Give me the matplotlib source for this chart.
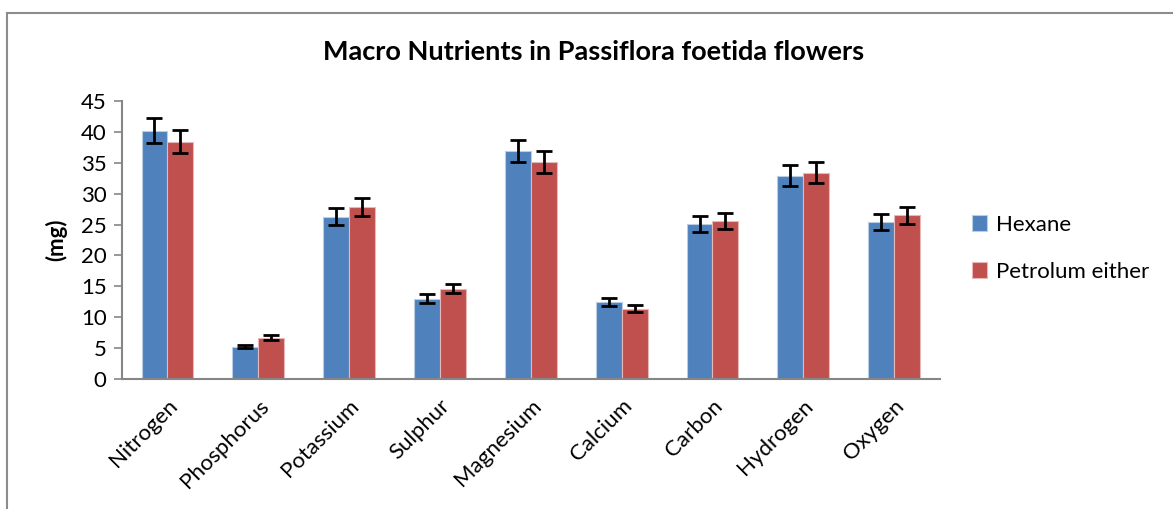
import numpy as np
import matplotlib
matplotlib.use("Agg")
import matplotlib.pyplot as plt
from matplotlib.lines import Line2D

plt.rcParams['font.family'] = ['Lato', 'DejaVu Sans']

nutrients = ['Nitrogen', 'Phosphorus', 'Potassium', 'Sulphur', 'Magnesium',
             'Calcium', 'Carbon', 'Hydrogen', 'Oxygen']
hexane = [40.2, 5.2, 26.3, 13.0, 36.9, 12.5, 25.1, 32.9, 25.4]
hexane_err = [2.0, 0.25, 1.35, 0.7, 1.85, 0.65, 1.25, 1.7, 1.25]
petrol = [38.4, 6.7, 27.8, 14.6, 35.1, 11.4, 25.5, 33.4, 26.5]
petrol_err = [1.9, 0.35, 1.45, 0.75, 1.75, 0.6, 1.3, 1.7, 1.35]

fig = plt.figure(figsize=(11.73, 5.09), dpi=100)
ax = fig.add_axes([0.104, 0.2554, 0.697, 0.5462])

x = np.arange(len(nutrients))
w = 0.285
err_kw = dict(ecolor='black', elinewidth=2, capsize=6, capthick=2)
ax.bar(x - w / 2, hexane, w, yerr=hexane_err, color='#4F81BD',
       edgecolor='#B9CDE5', linewidth=0.8, label='Hexane', error_kw=err_kw)
ax.bar(x + w / 2, petrol, w, yerr=petrol_err, color='#C0504D',
       edgecolor='#E6B9B8', linewidth=0.8, label='Petrolum either', error_kw=err_kw)

ax.set_xlim(-0.5, len(nutrients) - 0.5)
ax.set_ylim(0, 45)
ax.set_yticks(range(0, 46, 5))
ax.set_xticks(x)
ax.set_xticklabels(nutrients, rotation=45, ha='right', rotation_mode='anchor',
                   fontsize=16)
ax.tick_params(axis='x', length=0, pad=12)
ax.tick_params(axis='y', direction='out', length=6, width=1.2, color='#868686',
               labelsize=16, pad=5)
for s in ['top', 'right']:
    ax.spines[s].set_visible(False)
for s in ['left', 'bottom']:
    ax.spines[s].set_color('#868686')
    ax.spines[s].set_linewidth(1.5)

ax.set_ylabel('(mg)', fontsize=16, fontweight='bold', labelpad=10)
fig.text(0.506, 0.898, 'Macro Nutrients in Passiflora foetida flowers',
         ha='center', va='center', fontsize=19.5, fontweight='bold')

ax.legend(loc='center left', bbox_to_anchor=(1.015, 0.47), frameon=False,
          fontsize=16, handlelength=0.7, handleheight=0.7, handletextpad=0.4,
          labelspacing=1.2)

# outer chart frame (only left and top visible in the crop)
fig.add_artist(Line2D([7 / 1173, 7 / 1173], [0, 1 - 13 / 509],
                      transform=fig.transFigure, color='#8c8c8c', lw=1.5))
fig.add_artist(Line2D([7 / 1173, 1], [1 - 13 / 509, 1 - 13 / 509],
                      transform=fig.transFigure, color='#8c8c8c', lw=1.5))

fig.savefig('out.png', dpi=100)
